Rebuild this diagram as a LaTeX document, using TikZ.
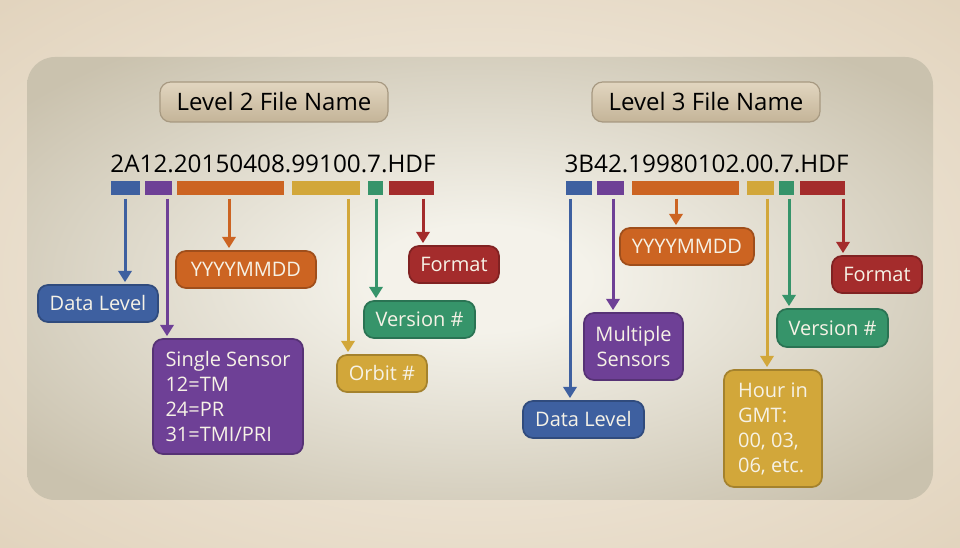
\documentclass[tikz,border=0pt]{standalone}
\usepackage{fontspec}
\setmainfont{Open Sans}
\usetikzlibrary{arrows.meta}

\definecolor{cblue}{RGB}{62,96,160}
\definecolor{cpurple}{RGB}{110,64,150}
\definecolor{corange}{RGB}{204,100,34}
\definecolor{cyellow}{RGB}{210,167,58}
\definecolor{cgreen}{RGB}{54,148,106}
\definecolor{cred}{RGB}{164,44,44}
\definecolor{ctext}{RGB}{246,242,230}
\definecolor{tantop}{RGB}{226,214,192}
\definecolor{tanbot}{RGB}{196,180,152}
\definecolor{bgin}{RGB}{241,233,220}
\definecolor{bgout}{RGB}{226,212,190}
\definecolor{pin}{RGB}{244,242,234}
\definecolor{pout}{RGB}{202,194,174}

\pgfdeclareradialshading{panelglow}{\pgfpoint{0bp}{0bp}}{color(0bp)=(pin); color(6bp)=(pin); color(32bp)=(pout); color(50bp)=(pout)}
\pgfdeclareradialshading{canvasglow}{\pgfpoint{0bp}{0bp}}{color(0bp)=(bgin); color(10bp)=(bgin); color(35bp)=(bgout); color(50bp)=(bgout)}

\begin{document}
\begin{tikzpicture}[x=0.75pt, y=-0.75pt,
    box/.style = {rounded corners=7.5pt, inner sep=0pt, line width=1.3pt, text=ctext,
                  font=\fontsize{15}{18.75}\selectfont, minimum height=27.75pt},
    title/.style = {rounded corners=8pt, inner sep=0pt, top color=tantop, bottom color=tanbot,
                    draw=tanbot!85!black, line width=0.9pt, minimum width=171pt, minimum height=30pt,
                    font=\fontsize{18}{21}\selectfont},
    fname/.style = {anchor=base, inner sep=0pt, font=\fontsize{18.2}{21}\selectfont},
    bar/.style = {inner sep=0pt, minimum height=10.5pt, fill=#1},
    arr/.style = {line width=2.25pt, draw=#1, -{Triangle[width=10pt,length=8.5pt]},
                  shorten <=2.5pt, shorten >=1.5pt}]

    \useasboundingbox (0,0) rectangle (960,548);
    \shade[shading=canvasglow] (0,0) rectangle (960,548);
    \shade[shading=panelglow, rounded corners=21pt] (27,57) rectangle (933,500);

    % level 2
    \node[title] (t2) at (274,102) {Level 2 File Name};
    \node[fname] (fn2) at (273,173) {2A12.20150408.99100.7.HDF};

    \node[bar=cblue,   minimum width=21.75pt] (b2a) at (125.5,188) {};
    \node[bar=cpurple, minimum width=20.25pt] (b2b) at (158.5,188) {};
    \node[bar=corange, minimum width=80.25pt] (b2c) at (230.5,188) {};
    \node[bar=cyellow, minimum width=51pt]    (b2d) at (326,188)   {};
    \node[bar=cgreen,  minimum width=11.25pt] (b2e) at (375.5,188) {};
    \node[bar=cred,    minimum width=33.75pt] (b2f) at (411.5,188) {};

    \node[box, fill=cblue,   draw=cblue!78!black,   minimum width=90pt]    (dl2) at (98,303.5)  {Data Level};
    \node[box, fill=corange, draw=corange!78!black, minimum width=105pt]   (ym2) at (246,269.5) {YYYYMMDD};
    \node[box, fill=cpurple, draw=cpurple!78!black, minimum width=112.5pt, minimum height=86.25pt,
          align=left] (ss2) at (228,396.5) {Single Sensor\\12=TM\\24=PR\\31=TMI/PRI};
    \node[box, fill=cyellow, draw=cyellow!78!black, minimum width=67.5pt]  (ob2) at (382,373.5) {Orbit \#};
    \node[box, fill=cgreen,  draw=cgreen!78!black,  minimum width=83.25pt] (vn2) at (419.5,319.5) {Version \#};
    \node[box, fill=cred,    draw=cred!78!black,    minimum width=67.5pt]  (fm2) at (454,264.5) {Format};

    \draw[arr=cblue]   (b2a.south -| 125,0) -- (dl2.north -| 125,0);
    \draw[arr=cpurple] (b2b.south -| 167,0) -- (ss2.north -| 167,0);
    \draw[arr=corange] (b2c.south -| 229,0) -- (ym2.north -| 229,0);
    \draw[arr=cyellow] (b2d.south -| 348,0) -- (ob2.north -| 348,0);
    \draw[arr=cgreen]  (b2e.south -| 376,0) -- (vn2.north -| 376,0);
    \draw[arr=cred]    (b2f.south -| 423,0) -- (fm2.north -| 423,0);

    % level 3
    \node[title] (t3) at (706,102) {Level 3 File Name};
    \node[fname] (fn3) at (706.5,173) {3B42.19980102.00.7.HDF};

    \node[bar=cblue,   minimum width=19.5pt]  (b3a) at (579,188)   {};
    \node[bar=cpurple, minimum width=20.25pt] (b3b) at (610.5,188) {};
    \node[bar=corange, minimum width=80.25pt] (b3c) at (685.5,188) {};
    \node[bar=cyellow, minimum width=20.25pt] (b3d) at (760.5,188) {};
    \node[bar=cgreen,  minimum width=11.25pt] (b3e) at (786.5,188) {};
    \node[bar=cred,    minimum width=33.75pt] (b3f) at (822.5,188) {};

    \node[box, fill=cblue,   draw=cblue!78!black,   minimum width=90.75pt] (dl3) at (583.5,419.5) {Data Level};
    \node[box, fill=cpurple, draw=cpurple!78!black, minimum width=74.25pt, minimum height=50.25pt,
          align=center] (ms3) at (633.5,346.5) {Multiple\\Sensors};
    \node[box, fill=corange, draw=corange!78!black, minimum width=100.5pt] (ym3) at (687,246.5) {YYYYMMDD};
    \node[box, fill=cyellow, draw=cyellow!78!black, minimum width=73.5pt, minimum height=87.75pt,
          align=left] (hr3) at (773,428.5) {Hour in\\GMT:\\00, 03,\\06, etc.};
    \node[box, fill=cgreen,  draw=cgreen!78!black,  minimum width=83.25pt, minimum height=28.5pt] (vn3) at (832.5,328) {Version \#};
    \node[box, fill=cred,    draw=cred!78!black,    minimum width=67.5pt]  (fm3) at (877,274.5) {Format};

    \draw[arr=cblue]   (b3a.south -| 570,0) -- (dl3.north -| 570,0);
    \draw[arr=cpurple] (b3b.south -| 613,0) -- (ms3.north -| 613,0);
    \draw[arr=corange] (b3c.south -| 676,0) -- (ym3.north -| 676,0);
    \draw[arr=cyellow] (b3d.south -| 767,0) -- (hr3.north -| 767,0);
    \draw[arr=cgreen]  (b3e.south -| 789,0) -- (vn3.north -| 789,0);
    \draw[arr=cred]    (b3f.south -| 843,0) -- (fm3.north -| 843,0);
\end{tikzpicture}
\end{document}
